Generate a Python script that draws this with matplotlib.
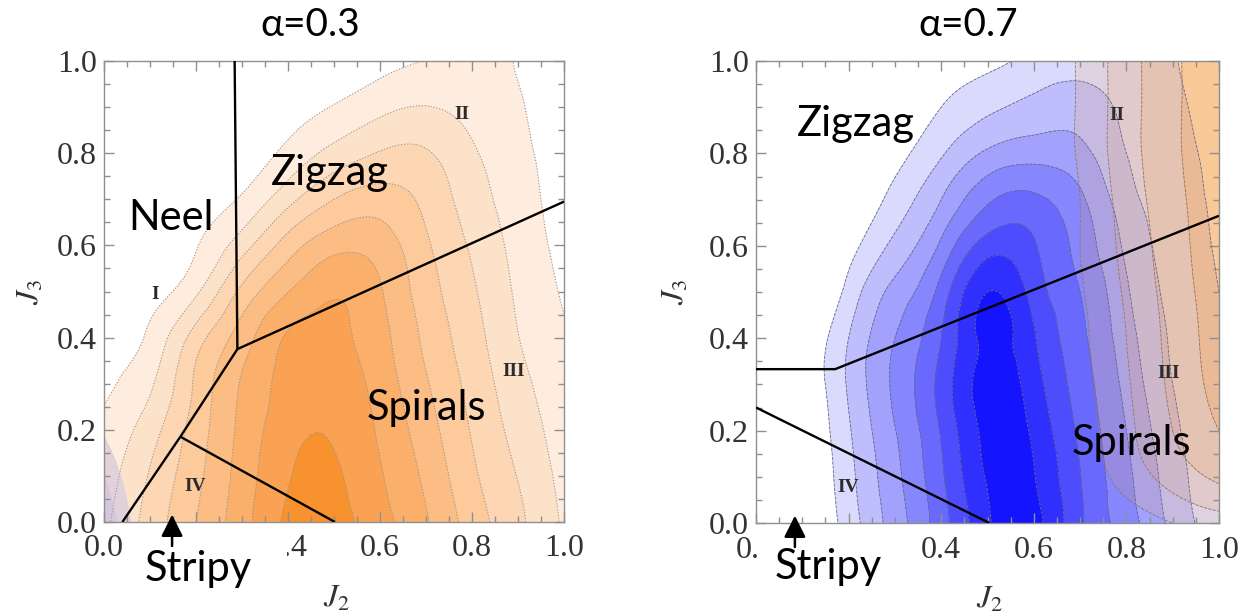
import numpy as np
import matplotlib.pyplot as plt
import matplotlib.tri as mtri
from matplotlib.patches import Rectangle
from matplotlib.ticker import MultipleLocator, FixedFormatter

plt.rcParams['mathtext.fontset'] = 'stix'
SANS = ['Lato', 'Open Sans', 'DejaVu Sans']

grid_j2 = [0.0, 0.1, 0.2, 0.3, 0.4, 0.5, 0.6, 0.7, 0.8, 0.9, 1.0]
grid_j3 = [0.0, 0.1, 0.2, 0.3, 0.4, 0.5, 0.6, 0.7, 0.8, 0.9, 1.0]

# alpha = 0.3 : orange contour heights, one row per J3 value (bottom -> top)
orange_a03 = [
    [1.77, 3.40, 5.00, 6.60, 8.20, 8.40, 7.38, 6.10, 4.54, 3.22, 1.85],
    [1.47, 3.09, 4.73, 6.43, 7.92, 8.15, 7.10, 5.79, 4.20, 2.96, 1.66],
    [1.18, 2.56, 4.46, 6.27, 7.65, 7.88, 6.85, 5.45, 3.92, 2.65, 1.47],
    [0.88, 1.83, 4.18, 6.10, 7.38, 7.58, 6.60, 5.10, 3.67, 2.35, 1.28],
    [0.60, 1.21, 3.48, 5.50, 7.12, 7.27, 6.35, 4.77, 3.41, 2.03, 1.10],
    [0.30, 0.60, 1.82, 4.25, 5.96, 6.89, 6.10, 4.47, 3.15, 1.84, 0.90],
    [-0.10, 0.05, 0.93, 2.55, 4.48, 5.67, 5.54, 4.16, 2.86, 1.66, 0.70],
    [-0.50, -0.40, 0.30, 1.13, 2.67, 4.00, 4.47, 3.74, 2.50, 1.48, 0.50],
    [-0.90, -0.70, -0.20, 0.30, 1.29, 2.33, 3.07, 3.10, 2.14, 1.31, 0.30],
    [-1.20, -1.00, -0.60, -0.30, 0.40, 1.06, 1.72, 2.03, 1.66, 1.12, 0.10],
    [-1.40, -1.20, -0.90, -0.80, -0.30, 0.10, 0.60, 1.02, 1.10, 0.95, -0.10],
]
orange_levels = [1, 2, 3, 4, 5, 6, 7, 8, 20]
orange_colors = ['#feeddf', '#fde2ca', '#fdd6b3', '#fcca9b', '#fbbd83',
                 '#fab06b', '#f9a253', '#f7922f']

# small lilac patch in the lower left corner of the alpha = 0.3 panel
lilac_j2 = [0.0, 0.1, 0.2]
lilac_j3 = [0.0, 0.1, 0.2, 0.3]
lilac_vals = [
    [2.0, -1.2, -3.0],
    [1.0, -1.5, -3.0],
    [-0.2, -2.0, -3.0],
    [-1.5, -2.5, -3.0],
]

# alpha = 0.7 : blue contour heights
blue_a07 = [
    [-1.30, -0.34, 1.47, 3.48, 5.57, 7.84, 8.35, 6.18, 4.48, 2.72, 1.36],
    [-1.20, -0.21, 1.68, 3.72, 5.83, 8.10, 8.05, 6.03, 4.24, 2.48, 1.30],
    [-1.10, -0.08, 1.88, 3.96, 6.09, 8.30, 7.80, 5.79, 4.00, 2.24, 1.25],
    [-0.90, 0.08, 2.13, 4.20, 6.35, 8.45, 7.45, 5.53, 3.71, 2.00, 1.20],
    [-1.00, 0.00, 2.00, 4.00, 6.00, 8.30, 7.10, 5.26, 3.43, 1.86, 1.10],
    [-1.60, -0.66, 1.34, 3.34, 5.40, 8.00, 6.60, 5.00, 3.14, 1.72, 1.00],
    [-1.50, -0.80, 0.58, 2.27, 4.20, 6.50, 6.10, 4.64, 2.80, 1.58, 0.90],
    [-1.70, -1.00, -0.14, 1.38, 3.00, 4.83, 5.20, 4.20, 2.40, 1.44, 0.80],
    [-1.90, -1.30, -0.60, 0.60, 1.88, 3.17, 3.60, 3.30, 2.00, 1.30, 0.70],
    [-2.10, -1.50, -0.80, 0.10, 1.00, 1.78, 2.30, 2.50, 1.75, 1.17, 0.60],
    [-2.30, -1.70, -1.00, -0.30, 0.30, 0.70, 1.30, 1.60, 1.40, 1.05, 0.50],
]
blue_levels = [1, 2, 3, 4, 5, 6, 7, 8, 20]
blue_colors = ['#dadafc', '#bebefc', '#a2a2fc', '#8686fd', '#6969fd',
               '#4d4dfe', '#3030fe', '#1414ff']

# alpha = 0.7 : orange overlay on the right hand side
tint_a07 = [
    [-4.0, -3.5, -3.0, -2.5, -2.0, -1.50, -1.00, -0.30, 0.30, 1.00, 1.50],
    [-4.0, -3.5, -3.0, -2.5, -2.0, -1.60, -0.80, 0.30, 1.40, 2.40, 3.20],
    [-4.0, -3.5, -3.0, -2.5, -2.0, -1.60, -0.75, 0.50, 1.75, 3.00, 4.00],
    [-4.0, -3.5, -3.0, -2.5, -2.0, -1.50, -0.60, 0.63, 1.88, 3.22, 4.33],
    [-4.0, -3.5, -3.0, -2.5, -2.0, -1.45, -0.50, 0.75, 2.00, 3.33, 4.44],
    [-4.0, -3.5, -3.0, -2.5, -2.0, -1.40, -0.38, 0.88, 2.14, 3.44, 4.56],
    [-4.0, -3.5, -3.0, -2.5, -2.0, -1.30, -0.25, 1.00, 2.29, 3.56, 4.67],
    [-4.0, -3.5, -3.0, -2.5, -2.0, -1.30, -0.25, 1.00, 2.43, 3.67, 4.78],
    [-4.0, -3.5, -3.0, -2.5, -2.0, -1.20, -0.10, 1.14, 2.57, 3.78, 4.90],
    [-4.0, -3.5, -3.0, -2.5, -2.0, -1.20, -0.10, 1.14, 2.57, 3.78, 4.90],
    [-4.0, -3.5, -3.0, -2.5, -2.0, -1.20, -0.10, 1.14, 2.57, 3.78, 4.90],
]
tint_levels = [1, 2, 3, 4, 20]
tint_colors = [(0.96, 0.65, 0.33, 0.16), (0.96, 0.65, 0.33, 0.29),
               (0.96, 0.65, 0.33, 0.43), (0.96, 0.65, 0.33, 0.60)]

# tick labels; the ones hidden behind the "Stripy" note are left empty
tick_vals = [0.0, 0.2, 0.4, 0.6, 0.8, 1.0]
y_tick_labels = ['0.0', '0.2', '0.4', '0.6', '0.8', '1.0']
x_tick_labels = ['0.0', '', '0.4', '0.6', '0.8', '1.0']

# phase boundaries (J2, J3)
left_lines = [
    ([0.284, 0.290], [1.0, 0.375]),
    ([0.290, 1.0], [0.375, 0.695]),
    ([0.290, 0.166, 0.040], [0.375, 0.185, 0.0]),
    ([0.166, 0.502], [0.185, 0.0]),
]
right_lines = [
    ([0.0, 0.171, 1.0], [0.333, 0.333, 0.665]),
    ([0.0, 0.504], [0.25, 0.0]),
]


def refine(xs, ys, rows):
    gx, gy = np.meshgrid(xs, ys)
    tri = mtri.Triangulation(gx.ravel(), gy.ravel())
    return mtri.UniformTriRefiner(tri).refine_field(np.asarray(rows, float).ravel(), subdiv=3)


def style_axes(ax, ylab_x):
    ax.set_xlim(0, 1)
    ax.set_ylim(0, 1)
    for s in ax.spines.values():
        s.set_color('#8f8f8f')
        s.set_linewidth(1.0)
    ax.set_xticks(tick_vals)
    ax.set_yticks(tick_vals)
    ax.xaxis.set_major_formatter(FixedFormatter(x_tick_labels))
    ax.yaxis.set_major_formatter(FixedFormatter(y_tick_labels))
    ax.xaxis.set_minor_locator(MultipleLocator(0.05))
    ax.yaxis.set_minor_locator(MultipleLocator(0.05))
    ax.tick_params(which='both', direction='in', top=True, right=True, color='#8f8f8f')
    ax.tick_params(which='major', length=7, width=1)
    ax.tick_params(which='minor', length=4.5, width=1)
    ax.tick_params(axis='x', pad=9)
    ax.tick_params(axis='y', pad=5)
    for lab in ax.get_xticklabels() + ax.get_yticklabels():
        lab.set_fontfamily('Liberation Serif')
        lab.set_fontsize(23)
        lab.set_color('#333333')
    ax.text(ylab_x, 0.50, '$J_3$', transform=ax.transAxes, rotation=90,
            ha='center', va='center', fontsize=23, color='#333333')
    ax.text(0.505, -0.165, '$J_2$', transform=ax.transAxes,
            ha='center', va='center', fontsize=23, color='#333333')


def roman(ax, x, y, s):
    ax.text(x, y, s, ha='center', va='center', fontfamily='Liberation Serif',
            fontweight='bold', fontsize=14, color='#2b2b2b', zorder=6)


def stripy(ax, box_x0, box_x1, arrow_x, text_x, text_y):
    # white note box that hides part of the tick labels, as in the source figure
    ax.add_patch(Rectangle((box_x0, -0.175), box_x1 - box_x0, 0.155, transform=ax.transAxes,
                           facecolor='white', edgecolor='none', clip_on=False, zorder=10))
    ax.annotate('', xy=(arrow_x, 0.022), xytext=(arrow_x, -0.058),
                arrowprops=dict(arrowstyle='-|>,head_length=0.6,head_width=0.3',
                                color='black', lw=1.8, mutation_scale=22),
                annotation_clip=False, zorder=11)
    ax.text(text_x, text_y, 'Stripy', transform=ax.transAxes, ha='left', va='baseline',
            fontsize=30, family=SANS, zorder=11, clip_on=False)


fig = plt.figure(figsize=(12.44, 6.15), dpi=100)
ax1 = fig.add_axes([104 / 1244, 1 - 522 / 615, 460 / 1244, 461 / 615])
ax2 = fig.add_axes([756 / 1244, 1 - 523 / 615, 463 / 1244, 462 / 615])

# ---- alpha = 0.3 ----
tri_o, z_o = refine(grid_j2, grid_j3, orange_a03)
ax1.tricontourf(tri_o, z_o, levels=orange_levels, colors=orange_colors, zorder=1)
tri_l, z_l = refine(lilac_j2, lilac_j3, lilac_vals)
ax1.tricontourf(tri_l, z_l, levels=[0, 1, 10], colors=['#e2d0da', '#d6c7dd'], zorder=1.5)
ax1.tricontour(tri_o, z_o, levels=orange_levels[:-1], colors='#999999',
               linewidths=0.8, linestyles='dotted', zorder=2)
for xs, ys in left_lines:
    ax1.plot(xs, ys, color='black', lw=1.7, zorder=4, solid_capstyle='butt')

ax1.text(0.052, 0.633, 'Neel', fontsize=30, family=SANS, zorder=6)
ax1.text(0.363, 0.732, 'Zigzag', fontsize=30, family=SANS, zorder=6)
ax1.text(0.572, 0.222, 'Spirals', fontsize=30, family=SANS, zorder=6)
roman(ax1, 0.112, 0.494, 'I')
roman(ax1, 0.778, 0.884, 'II')
roman(ax1, 0.890, 0.327, 'III')
roman(ax1, 0.199, 0.076, 'IV')
style_axes(ax1, -0.16)
stripy(ax1, 0.05, 0.398, 0.148, 0.089, -0.128)

# ---- alpha = 0.7 ----
tri_b, z_b = refine(grid_j2, grid_j3, blue_a07)
ax2.tricontourf(tri_b, z_b, levels=blue_levels, colors=blue_colors, zorder=1)
ax2.tricontour(tri_b, z_b, levels=blue_levels[:-1], colors='#6a6a88',
               linewidths=0.6, linestyles='dashed', zorder=2)
tri_t, z_t = refine(grid_j2, grid_j3, tint_a07)
ax2.tricontourf(tri_t, z_t, levels=tint_levels, colors=tint_colors, zorder=1.5)
ax2.tricontour(tri_t, z_t, levels=tint_levels[:-1], colors='#887777',
               linewidths=0.6, linestyles='dashed', zorder=2)
for xs, ys in right_lines:
    ax2.plot(xs, ys, color='black', lw=1.7, zorder=4, solid_capstyle='butt')

ax2.text(0.089, 0.838, 'Zigzag', fontsize=30, family=SANS, zorder=6)
ax2.text(0.681, 0.147, 'Spirals', fontsize=30, family=SANS, zorder=6)
roman(ax2, 0.780, 0.881, 'II')
roman(ax2, 0.892, 0.323, 'III')
roman(ax2, 0.200, 0.076, 'IV')
style_axes(ax2, -0.175)
stripy(ax2, 0.004, 0.32, 0.084, 0.041, -0.121)

fig.text(310 / 1244, 1 - 36 / 615, 'α=0.3', ha='center', va='baseline', fontsize=28, family=SANS)
fig.text(968 / 1244, 1 - 36 / 615, 'α=0.7', ha='center', va='baseline', fontsize=28, family=SANS)

fig.savefig('out.png', dpi=100)
